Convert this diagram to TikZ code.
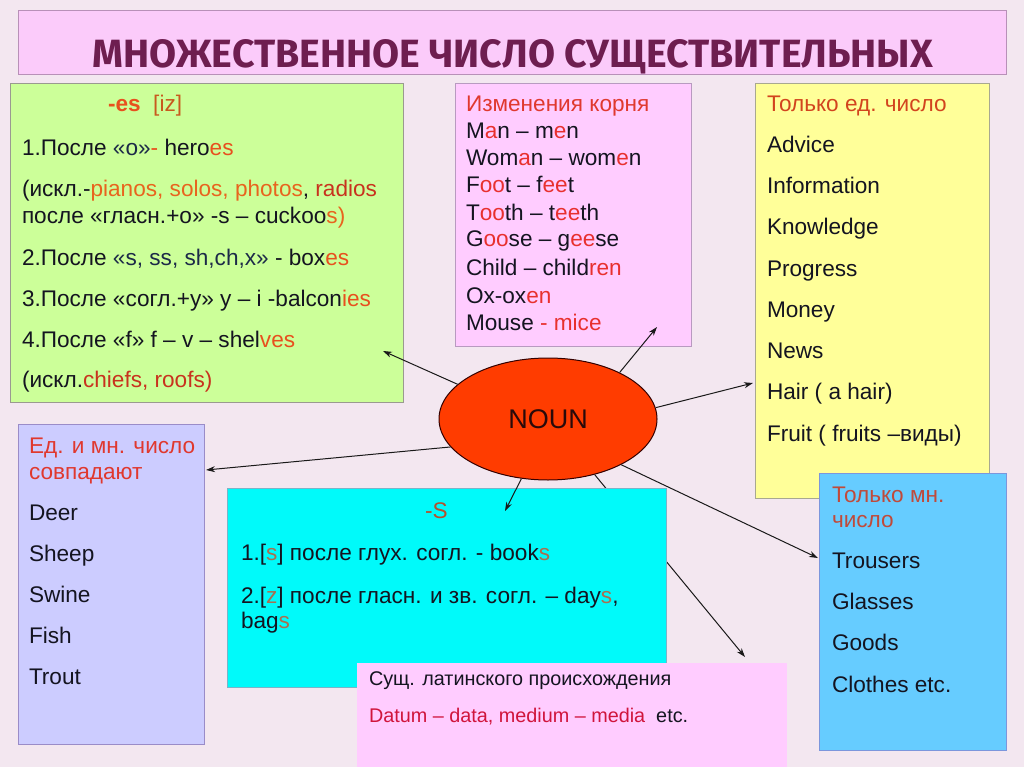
\documentclass[tikz,border=0pt]{standalone}
\usepackage{fontspec}
\usepackage{graphicx}
\setmainfont{Liberation Sans}
\newfontfamily\titlefont{Fira Sans}
\usetikzlibrary{shapes.geometric,arrows.meta}
\definecolor{bg}{HTML}{F3E7F0}
\definecolor{titlefill}{HTML}{FBCBFA}
\definecolor{titledraw}{HTML}{B890B8}
\definecolor{titletext}{HTML}{6E1E50}
\definecolor{grfill}{HTML}{CCFF99}
\definecolor{grdraw}{HTML}{9A9A90}
\definecolor{pkfill}{HTML}{FFCCFF}
\definecolor{pkdraw}{HTML}{B89AC0}
\definecolor{ylfill}{HTML}{FFFF99}
\definecolor{yldraw}{HTML}{A8A890}
\definecolor{lvfill}{HTML}{CCCCFF}
\definecolor{lvdraw}{HTML}{9A8CC8}
\definecolor{cyfill}{HTML}{00FAFA}
\definecolor{cydraw}{HTML}{7AB4C8}
\definecolor{blfill}{HTML}{66CCFF}
\definecolor{bldraw}{HTML}{7C96DC}
\definecolor{nounfill}{HTML}{FF3C00}
\definecolor{nountext}{HTML}{2A0A0A}
\definecolor{tblack}{HTML}{141420}
\definecolor{navy}{HTML}{1C2A48}
\definecolor{esred}{HTML}{E8501E}
\definecolor{brn}{HTML}{C85A1E}
\definecolor{orng}{HTML}{E8641E}
\definecolor{rred}{HTML}{C8321E}
\definecolor{hred}{HTML}{E0382E}
\definecolor{yhred}{HTML}{D2441E}
\definecolor{sbrn}{HTML}{A87050}
\definecolor{shead}{HTML}{B4502D}
\definecolor{crim}{HTML}{D0143C}
\definecolor{bhred}{HTML}{C04A3A}
\definecolor{mred}{HTML}{E8302E}
\tikzset{
  box/.style={line width=1pt, inner sep=0pt, outer sep=0pt, anchor=north west},
  txt/.style={anchor=base west, inner sep=0pt, outer sep=0pt, font=\fontsize{22.6}{26}\selectfont, text=tblack},
  smalltxt/.style={txt, font=\fontsize{19.8}{23}\selectfont},
  arr/.style={-{Stealth[length=9pt,width=6pt]}, line width=1pt, draw=black!90},
}
\newcommand{\hlA}[1]{{\color{esred}#1}}
\newcommand{\hlM}[1]{{\color{mred}#1}}
\newcommand{\hlS}[1]{{\color{sbrn}#1}}
\begin{document}
\begin{tikzpicture}[x=1pt,y=-1pt]
\useasboundingbox (0,0) rectangle (1024,767);
\fill[bg] (0,0) rectangle (1024,767);
% title
\node[box, draw=titledraw, fill=titlefill, minimum width=988pt, minimum height=64pt] (titlebox) at (18,11) {};
\node[anchor=base, inner sep=0pt, text=titletext] (title) at (513,68)
  {\resizebox{840pt}{28pt}{\titlefont\bfseries МНОЖЕСТВЕННОЕ ЧИСЛО СУЩЕСТВИТЕЛЬНЫХ}};
% boxes
\node[box, draw=grdraw, fill=grfill, minimum width=393pt, minimum height=318pt] (green) at (10,84) {};
\node[box, draw=pkdraw, fill=pkfill, minimum width=236pt, minimum height=262pt] (pink) at (455,84) {};
\node[box, draw=yldraw, fill=ylfill, minimum width=234pt, minimum height=414pt] (yellow) at (755,84) {};
\node[box, draw=lvdraw, fill=lvfill, minimum width=186pt, minimum height=320pt] (lav) at (18,424) {};
% noun
\node[ellipse, draw=black!80!red, line width=1pt, fill=nounfill, minimum width=218pt, minimum height=122pt, inner sep=0pt, text=nountext, font=\fontsize{27}{30}\selectfont] (noun) at (548,419) {NOUN};
% hidden arrow to latin box (behind cyan box)
\coordinate (tLatin) at (745,657);
\draw[arr] (noun.-50) -- (tLatin);
\node[box, draw=cydraw, fill=cyfill, minimum width=439pt, minimum height=199pt] (cyan) at (227,488) {};
\node[box, draw=none, fill=pkfill, minimum width=430pt, minimum height=104pt] (latin) at (357,663) {};
\node[box, draw=bldraw, fill=blfill, minimum width=187pt, minimum height=277pt] (blue) at (819,473) {};
% arrows
\coordinate (tGreen) at (383,351);
\coordinate (tPink) at (657,327);
\coordinate (tYellow) at (753,383);
\coordinate (tLav) at (206,470);
\coordinate (tCyan) at (505,511);
\coordinate (tBlue) at (818,558);
\draw[arr] (noun.159) -- (tGreen);
\draw[arr] (noun.33) -- (tPink);
\draw[arr] (noun.6) -- (tYellow);
\draw[arr] (noun.196) -- (tLav);
\draw[arr] (noun.246) -- (tCyan);
\draw[arr] (noun.-32) -- (tBlue);
% green texts
\node[txt] (g0) at (108,112) {{\bfseries\color{esred}-es}\ \ {\color{brn}[iz]}};
\node[txt] (g1) at (22,156) {1.После {\color{navy}«о»}{\color{esred}-} hero\hlA{es}};
\node[txt] (g2) at (22,197) {(искл.-{\color{orng}pianos, solos, photos}, {\color{rred}radios}};
\node[txt] (g3) at (22,224) {после «гласн.+о» -s – cuckoo{\color{orng}s)}};
\node[txt] (g4) at (22,265) {2.После {\color{navy}«s, ss, sh,ch,x»} - box\hlA{es}};
\node[txt] (g5) at (22,306) {3.После «согл.+y» y – i -balcon\hlA{ies}};
\node[txt] (g6) at (22,347) {4.После «f» f – v – shel\hlA{ves}};
\node[txt] (g7) at (22,387) {(искл.{\color{rred}chiefs, roofs)}};
% pink texts
\node[txt, text=hred] (p0) at (466,112) {Изменения корня};
\node[txt] (p1) at (466,139) {M\hlM{a}n – m\hlM{e}n};
\node[txt] (p2) at (466,166) {Wom\hlM{a}n – wom\hlM{e}n};
\node[txt] (p3) at (466,193) {F\hlM{oo}t – f\hlM{ee}t};
\node[txt] (p4) at (466,221) {T\hlM{oo}th – t\hlM{ee}th};
\node[txt] (p5) at (466,247) {G\hlM{oo}se – g\hlM{ee}se};
\node[txt] (p6) at (466,275) {Child – child\hlM{ren}};
\node[txt] (p7) at (466,303) {Ox-ox\hlM{en}};
\node[txt] (p8) at (466,330) {Mouse \hlM{- mice}};
% yellow texts
\node[txt, text=yhred] (y0) at (767,112) {Только ед. число};
\node[txt] (y1) at (767,153) {Advice};
\node[txt] (y2) at (767,194) {Information};
\node[txt] (y3) at (767,235) {Knowledge};
\node[txt] (y4) at (767,276) {Progress};
\node[txt] (y5) at (767,317) {Money};
\node[txt] (y6) at (767,358) {News};
\node[txt] (y7) at (767,399) {Hair ( a hair)};
\node[txt] (y8) at (767,441) {Fruit ( fruits –виды)};
% lavender texts
\node[txt, text=hred] (l0) at (29,453) {Ед. и мн. число};
\node[txt, text=hred] (l1) at (29,479) {совпадают};
\node[txt] (l2) at (29,520) {Deer};
\node[txt] (l3) at (29,561) {Sheep};
\node[txt] (l4) at (29,602) {Swine};
\node[txt] (l5) at (29,643) {Fish};
\node[txt] (l6) at (29,684) {Trout};
% cyan texts
\node[txt, text=shead] (c0) at (425,518) {-S};
\node[txt] (c1) at (241,560) {1.[\hlS{s}] после глух. согл. - book\hlS{s}};
\node[txt] (c2) at (241,603) {2.[\hlS{z}] после гласн. и зв. согл. – day\hlS{s},};
\node[txt] (c3) at (241,628) {bag\hlS{s}};
% latin texts
\node[smalltxt] (la0) at (369,685) {Сущ. латинского происхождения};
\node[smalltxt] (la1) at (369,722) {{\color{crim}Datum – data, medium – media}\ \ etc.};
% blue texts
\node[txt, text=bhred] (b0) at (832,502) {Только мн.};
\node[txt, text=bhred] (b1) at (832,527) {число};
\node[txt] (b2) at (832,568) {Trousers};
\node[txt] (b3) at (832,609) {Glasses};
\node[txt] (b4) at (832,650) {Goods};
\node[txt] (b5) at (832,692) {Clothes etc.};
\end{tikzpicture}
\end{document}
